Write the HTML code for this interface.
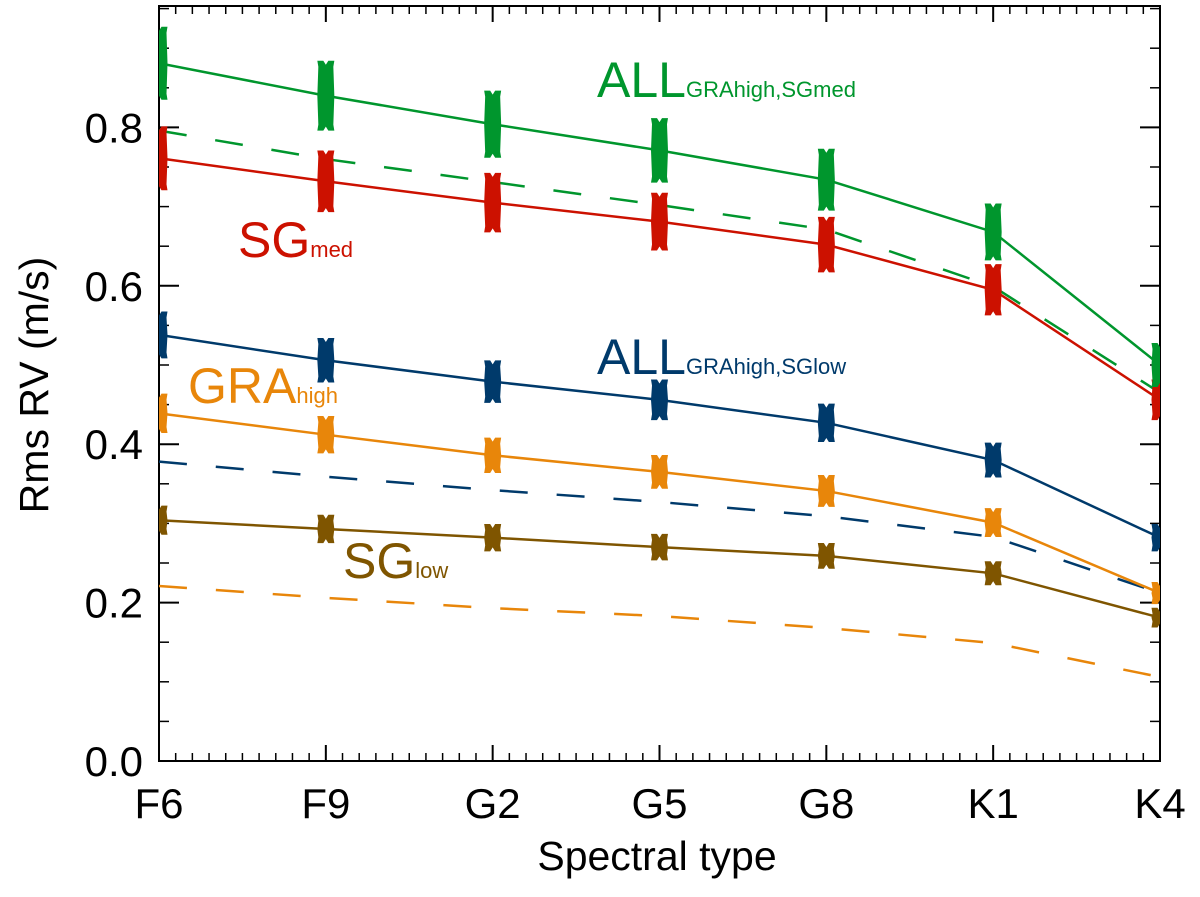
<!DOCTYPE html>
<html><head><meta charset="utf-8"><style>
html,body{margin:0;padding:0;background:#fff;}
svg{display:block;font-family:"Liberation Sans",Arial,sans-serif;}
</style></head><body>
<svg id="chart" width="1200" height="897" viewBox="0 0 1200 897" xmlns="http://www.w3.org/2000/svg">
<defs><clipPath id="plotclip"><rect x="159" y="6" width="1001" height="755"/></clipPath></defs>
<g id="axes"></g>
<g id="series" clip-path="url(#plotclip)"></g>
<g id="labels">
<text x="597" y="97" fill="#00962d" font-size="50">ALL<tspan font-size="22">GRAhigh,SGmed</tspan></text>
<text x="238" y="257" fill="#cc1100" font-size="50">SG<tspan font-size="22">med</tspan></text>
<text x="597" y="374" fill="#003a6b" font-size="50">ALL<tspan font-size="22">GRAhigh,SGlow</tspan></text>
<text x="188" y="403" fill="#e8860a" font-size="50">GRA<tspan font-size="22">high</tspan></text>
<text x="343" y="578" fill="#7f5500" font-size="50">SG<tspan font-size="22">low</tspan></text>
</g>
<text x="657" y="870" font-size="41" text-anchor="middle">Spectral type</text>
<text transform="translate(48,385) rotate(-90)" font-size="41" text-anchor="middle">Rms RV (m/s)</text>
</svg>
<script>
const categories = ["F6","F9","G2","G5","G8","K1","K4"];
const yTicks = [0.0,0.2,0.4,0.6,0.8];
const yTickLabels = ["0.0","0.2","0.4","0.6","0.8"];
const allSgMed = [0.881,0.840,0.804,0.771,0.734,0.668,0.500];
const allSgMedDashed = [0.796,0.760,0.731,0.702,0.671,0.599,0.465];
const sgMed = [0.761,0.732,0.705,0.681,0.652,0.595,0.456];
const allSgLow = [0.538,0.506,0.479,0.456,0.427,0.380,0.282];
const allSgLowDashed = [0.378,0.359,0.342,0.327,0.309,0.283,0.212];
const graHigh = [0.439,0.412,0.386,0.365,0.341,0.301,0.212];
const graHighDashed = [0.221,0.206,0.193,0.183,0.168,0.149,0.106];
const sgLow = [0.304,0.293,0.282,0.270,0.259,0.237,0.181];

const X0=159,X1=1160,Y0=761,YT=6,SC=792;
const xs = i => X0 + i*(X1-X0)/(categories.length-1);
const ys = v => Y0 - v*SC;
const NS="http://www.w3.org/2000/svg";
function mk(tag, attrs, parent){const e=document.createElementNS(NS,tag);for(const k in attrs)e.setAttribute(k,attrs[k]);parent.appendChild(e);return e;}

const axes=document.getElementById('axes');
const frame=mk('rect',{x:X0,y:YT,width:X1-X0,height:Y0-YT,fill:'none',stroke:'#000','stroke-width':2},axes);


for(let i=0;i<categories.length;i++){
  const x=xs(i);
  for(const [yb,d] of [[Y0,-1],[YT,1]]){
    const t=mk('line',{x1:x,x2:x,y1:yb,y2:yb+d*16,stroke:'#000','stroke-width':2},axes);
    
    
  }
  if(i<categories.length-1){
    for(let m=1;m<10;m++){
      const xm=x+m*(X1-X0)/(categories.length-1)/10;
      for(const [yb,d] of [[Y0,-1],[YT,1]]){
        const t=mk('line',{x1:xm,x2:xm,y1:yb,y2:yb+d*8,stroke:'#000','stroke-width':1.5},axes);
        
        
      }
    }
  }
  const lab=mk('text',{x:x,y:818,'font-size':42,'text-anchor':'middle'},axes);
  lab.textContent=categories[i];
  
  
}
for(let v=0;v<=0.95001;v+=0.05){
  const y=ys(v);
  const major=Math.abs(Math.round(v*5)-v*5)<1e-6;
  const len=major?20:10;
  for(const [xb,d] of [[X0,1],[X1,-1]]){
    const t=mk('line',{x1:xb,x2:xb+d*len,y1:y,y2:y,stroke:'#000','stroke-width':major?2:1.5},axes);
    
    
  }
}
yTicks.forEach((v,i)=>{
  const lab=mk('text',{x:143,y:ys(v)+15,'font-size':42,'text-anchor':'end'},axes);
  lab.textContent=yTickLabels[i];
  
  
});

const g=document.getElementById('series');
function line(vals,color,dashed,name){
  const p=mk('polyline',{points:vals.map((v,i)=>xs(i)+','+ys(v)).join(' '),fill:'none',stroke:color,'stroke-width':2.5,'stroke-dasharray':dashed?'28 29':'none'},g);
  
  
}
function markers(vals,color,name){
  vals.forEach((v,i)=>{
    const x=xs(i),y=ys(v),h=38*v+3,w=8.5;
    const pts=[[x-w,y-h],[x-2.5,y-h],[x,y-h+4],[x+2.5,y-h],[x+w,y-h],[x+w-1,y-h+6],[x+w,y],[x+w-1,y+h-6],[x+w,y+h],[x+2.5,y+h],[x,y+h-4],[x-2.5,y+h],[x-w,y+h],[x-w+1,y+h-6],[x-w,y],[x-w+1,y-h+6]];
    const m=mk('polygon',{points:pts.map(p=>p.join(',')).join(' '),fill:color},g);
    
    
  });
}
line(graHighDashed,'#e8860a',true,'grahigh-dashed-line');
line(allSgLowDashed,'#003a6b',true,'all-sglow-dashed-line');
line(allSgMedDashed,'#00962d',true,'all-sgmed-dashed-line');
line(sgLow,'#7f5500',false,'sglow-line');markers(sgLow,'#7f5500','sglow-marker');
line(graHigh,'#e8860a',false,'grahigh-line');markers(graHigh,'#e8860a','grahigh-marker');
line(allSgLow,'#003a6b',false,'all-sglow-line');markers(allSgLow,'#003a6b','all-sglow-marker');
line(sgMed,'#cc1100',false,'sgmed-line');markers(sgMed,'#cc1100','sgmed-marker');
line(allSgMed,'#00962d',false,'all-sgmed-line');markers(allSgMed,'#00962d','all-sgmed-marker');
</script>
</body></html>
